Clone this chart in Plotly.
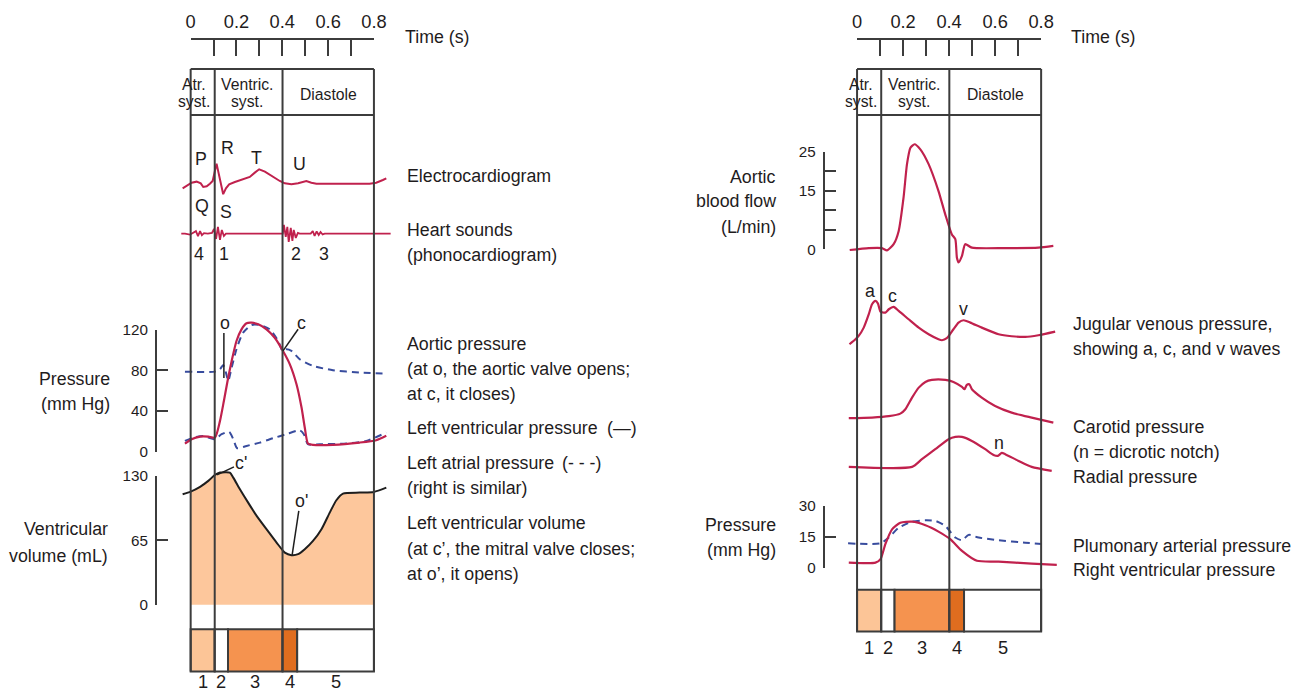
import plotly.graph_objects as go

# design grid (pixels) -> figure pixels: the figure is laid out on a grid that is
# offset by (GX0, GY0) and slightly reduced by (GSX, GSY)
GX0, GSX = 4.7, 0.988
GY0, GSY = 8.0, 0.976
FW, FH = 1306, 702
FS = 1.016  # font scale to go with the grid

RED = "#c0214d"
BLUE = "#384c9e"
INK = "#1f1c1d"
FRAME = "#3c3c3c"
FONT = "Liberation Sans, Arial, sans-serif"

# ---------------- left panel: ECG, heart sounds, left-heart pressures, volume ----------------
ECG_T = [-0.035, -0.017, 0.004, 0.026, 0.044, 0.055, 0.070, 0.084, 0.096, 0.113, 0.131, 0.142,
         0.154, 0.168, 0.193, 0.222, 0.258, 0.280, 0.299, 0.324, 0.353, 0.389, 0.411, 0.440,
         0.469, 0.505, 0.527, 0.549, 0.781, 0.810, 0.839, 0.854]
ECG_MV = [-0.28, -0.10, 0.06, 0.12, 0.02, -0.20, -0.16, 0.0, 0.16, 1.20, -0.04, -0.63,
          -0.28, -0.04, 0.10, 0.22, 0.40, 0.66, 0.86, 0.72, 0.46, 0.16, 0.02, -0.04,
          0.02, 0.16, 0.06, 0.0, 0.0, 0.06, 0.22, 0.32]

HS_T = [-0.041, -0.025, -0.003, 0.010, 0.023, 0.032, 0.041, 0.049, 0.058, 0.075, 0.093,
        0.102, 0.111, 0.119, 0.128, 0.136, 0.145, 0.154, 0.402, 0.407, 0.415, 0.422, 0.428,
        0.437, 0.444, 0.450, 0.459, 0.468, 0.476, 0.524, 0.533, 0.541, 0.550, 0.559, 0.567,
        0.576, 0.585, 0.873]
HS_AMP = [0, 0, -1, 1, 2.5, -2.5, 2.5, -1.5, 0.5, 0, 0.7,
          4.7, -5.3, 6.7, -6.3, 3.7, -2.3, 0, 0, 8.7, -3.3, 6.7, -8.3,
          5.7, -7.3, 3.7, -4.3, 0.7, 0, 0, 2.7, -2.3, 2.2, -1.3, 1.7,
          -0.8, 0, 0]

LVP_T = [-0.025, 0.004, 0.041, 0.077, 0.106, 0.128, 0.145, 0.161, 0.179, 0.200, 0.222, 0.244,
         0.266, 0.295, 0.331, 0.367, 0.403, 0.433, 0.462, 0.484, 0.498, 0.512, 0.534, 0.621,
         0.738, 0.810, 0.854]
LVP = [7.9, 12.2, 14.7, 14.7, 13.7, 30.2, 49.8, 69.4, 89.1, 108.7, 120.2, 126.1,
       126.7, 125.1, 120.2, 111.9, 98.9, 85.8, 66.2, 43.3, 23.7, 7.9, 6.6, 6.6,
       8.9, 11.2, 15.5]

AOP_T = [-0.025, 0.106, 0.128, 0.142, 0.154, 0.164, 0.179, 0.200, 0.229, 0.266, 0.302, 0.345,
         0.382, 0.401, 0.418, 0.440, 0.476, 0.534, 0.621, 0.738, 0.854]
AOP = [78.6, 78.6, 81.0, 85.2, 77.6, 69.5, 82.6, 100.6, 117.0, 124.5, 124.5, 120.3,
       108.8, 99.0, 100.6, 99.0, 90.8, 84.2, 80.0, 77.6, 76.7]

LAP_T = [-0.025, 0.011, 0.055, 0.106, 0.135, 0.168, 0.186, 0.203, 0.244, 0.302, 0.360, 0.418,
         0.476, 0.494, 0.512, 0.563, 0.680, 0.767, 0.854]
LAP = [10.5, 13.8, 15.4, 12.2, 17.1, 19.4, 12.2, 3.3, 5.6, 8.8, 13.2, 17.1,
       21.0, 17.1, 7.3, 7.3, 7.9, 10.5, 18.7]

VOL_T = [-0.035, 0.0, 0.041, 0.077, 0.106, 0.128, 0.171, 0.186, 0.215, 0.251, 0.288, 0.331,
         0.375, 0.411, 0.440, 0.469, 0.498, 0.534, 0.571, 0.607, 0.636, 0.665, 0.738, 0.800,
         0.854]
VOL = [111.6, 114.2, 119.0, 125.0, 131.0, 133.4, 133.4, 128.3, 116.6, 103.1, 89.7, 76.3,
       62.8, 52.7, 50.1, 51.1, 56.1, 64.5, 76.3, 93.0, 105.5, 112.2, 113.2, 113.9,
       118.2]

# ---------------- right panel: aortic flow, venous / arterial pulses, right-heart pressures ----------------
FLOW_T = [-0.032, 0.051, 0.108, 0.130, 0.159, 0.181, 0.202, 0.217, 0.232, 0.250, 0.275, 0.311,
          0.354, 0.383, 0.412, 0.427, 0.434, 0.441, 0.456, 0.470, 0.499, 0.644, 0.788, 0.853]
FLOW = [-0.2, 0.3, 0.3, -0.3, 1.3, 4.7, 13.2, 21.8, 26.0, 26.9, 25.6, 21.8,
        14.9, 9.0, 3.8, 2.6, -2.2, -3.4, -1.7, 1.3, 0.4, 0.3, 0.4, 0.85]

JVP_T = [-0.033, -0.007, 0.007, 0.029, 0.051, 0.065, 0.080, 0.091, 0.102, 0.123, 0.138, 0.159,
         0.181, 0.224, 0.268, 0.311, 0.354, 0.369, 0.390, 0.419, 0.441, 0.463, 0.492, 0.542,
         0.615, 0.672, 0.731, 0.788, 0.861]
JVP = [0.17, 0.67, 1.0, 1.83, 3.17, 4.17, 4.5, 4.23, 3.43, 3.33, 3.67, 3.9,
       3.5, 2.67, 1.83, 1.17, 0.67, 0.57, 0.77, 1.67, 2.33, 2.57, 2.33, 1.83,
       1.17, 0.97, 0.9, 1.07, 1.43]

CAR_T = [-0.036, 0.065, 0.138, 0.188, 0.210, 0.239, 0.268, 0.297, 0.325, 0.384, 0.419, 0.456,
         0.467, 0.477, 0.488, 0.499, 0.542, 0.600, 0.672, 0.759, 0.853]
CAR = [0.27, 0.33, 0.47, 0.73, 1.17, 2.33, 3.33, 3.9, 4.1, 4.1, 3.9, 3.4,
       3.17, 3.6, 3.67, 3.17, 2.33, 1.5, 0.83, 0.33, -0.17]

RAD_T = [-0.036, 0.239, 0.282, 0.340, 0.398, 0.427, 0.456, 0.499, 0.557, 0.593, 0.612, 0.629,
         0.644, 0.702, 0.759, 0.846]
RAD = [0.4, 0.4, 1.17, 2.17, 3.17, 3.4, 3.4, 3.0, 2.17, 1.6, 1.5, 1.8,
       1.67, 1.0, 0.4, 0.0]

RVP_T = [-0.036, 0.080, 0.102, 0.123, 0.152, 0.188, 0.239, 0.297, 0.354, 0.405, 0.456, 0.521,
         0.615, 0.759, 0.868]
RVP = [2.4, 2.4, 4.1, 11.4, 18.6, 21.8, 22.3, 20.6, 17.5, 13.8, 8.1, 3.3,
       2.9, 1.9, 1.3]

PAP_T = [-0.039, 0.102, 0.138, 0.181, 0.239, 0.297, 0.340, 0.384, 0.427, 0.456, 0.485, 0.528,
         0.615, 0.731, 0.817]
PAP = [11.8, 11.8, 14.6, 19.4, 22.3, 23.0, 22.7, 20.2, 14.6, 13.3, 15.9, 14.6,
       13.3, 12.1, 11.4]

# ---------------- cycle phases ----------------
PHASE_EDGES = [0.0, 0.105, 0.163, 0.401, 0.465, 0.8]
PHASE_FILL = ["#fcc597", "#ffffff", "#f5934f", "#df6d1f", "#ffffff"]
PHASE_LABELS = ["1", "2", "3", "4", "5"]
DIVIDERS = [0.0, 0.105, 0.401, 0.8]
HEADER = [("Atr.", "syst."), ("Ventric.", "syst."), ("Diastole",)]
HEADER_AT = [0.015, 0.248, 0.6]

TIME_TICKS = [0, 0.1, 0.2, 0.3, 0.4, 0.5, 0.6, 0.7, 0.8]
TIME_TEXT = ["0", "", "0.2", "", "0.4", "", "0.6", "", "0.8"]


# grid pixel -> paper fraction
def xpx(p):
    return (p - GX0) / GSX / FW


def ypx(p):
    return 1 - (p - GY0) / GSY / FH


def time_axis(t0_px, k, left_px, right_px):
    return dict(domain=[xpx(left_px), xpx(right_px)],
                range=[(left_px - t0_px) / k, (right_px - t0_px) / k],
                visible=False, showgrid=False, zeroline=False, fixedrange=True)


def value_axis(zero_px, k, top_px, bot_px):
    return dict(domain=[ypx(bot_px), ypx(top_px)],
                range=[(zero_px - bot_px) / k, (zero_px - top_px) / k],
                visible=False, showgrid=False, zeroline=False, fixedrange=True)


def ruler_y(zero_px, top_val, k, x_px, vals, text):
    return dict(domain=[ypx(zero_px), ypx(zero_px - top_val * k)], range=[0, top_val],
                anchor="free", position=xpx(x_px), side="left",
                showline=True, linecolor=FRAME, linewidth=2,
                ticks="inside", ticklen=11, tickwidth=2, tickcolor=FRAME,
                tickvals=vals, ticktext=text, ticklabelstandoff=4,
                tickfont=dict(family=FONT, size=15 * FS, color=INK),
                showgrid=False, zeroline=False, fixedrange=True)


def ruler_x(t0_px, k, y_px):
    return dict(domain=[xpx(t0_px), xpx(t0_px + 0.8 * k)], range=[0, 0.8],
                anchor="free", position=ypx(y_px), side="top",
                showline=True, linecolor=FRAME, linewidth=2,
                ticks="inside", ticklen=16.5, tickwidth=2, tickcolor=FRAME,
                tickvals=TIME_TICKS, ticktext=TIME_TEXT, ticklabelstandoff=3,
                tickfont=dict(family=FONT, size=18 * FS, color=INK),
                showgrid=False, zeroline=False, fixedrange=True)


# scale of each strip: (grid pixel of zero, grid pixels per unit)
L_T0, L_K = 190.7, 229.5
R_T0, R_K = 858.3, 230.5
LP_ZERO, LP_K = 450.7, 1.0175
LV_ZERO, LV_K = 604.0, 0.992
FL_ZERO, FL_K = 248.3, 3.904
RP_ZERO, RP_K = 566.7, 2.057

layout = dict(
    width=FW, height=FH, margin=dict(l=0, r=0, t=0, b=0), autosize=False,
    paper_bgcolor="white", plot_bgcolor="rgba(0,0,0,0)", showlegend=False,
    font=dict(family=FONT, color=INK),
    xaxis=ruler_x(L_T0, L_K, 38),
    xaxis2=time_axis(L_T0, L_K, 170, 395),
    xaxis3=ruler_x(R_T0, R_K, 38),
    xaxis4=time_axis(R_T0, R_K, 838, 1065),
    yaxis=ruler_y(LP_ZERO, 120, LP_K, 156, [0, 40, 80, 120], ["0", "40", "80", "120"]),
    yaxis2=ruler_y(LV_ZERO, 130, LV_K, 156, [0, 65, 130], ["0", "65", "130"]),
    yaxis3=value_axis(182.7, 16.7, 138, 216),
    yaxis4=value_axis(232.7, 1.0, 214, 252),
    yaxis5=value_axis(LP_ZERO, LP_K, 300, 462),
    yaxis6=value_axis(LV_ZERO, LV_K, 455, 612),
    yaxis7=ruler_y(FL_ZERO, 25, FL_K, 825, [0, 5, 10, 15, 20, 25], ["0", "", "", "15", "", "25"]),
    yaxis8=value_axis(FL_ZERO, FL_K, 130, 272),
    yaxis9=value_axis(345, 10, 280, 352),
    yaxis10=value_axis(420, 10, 368, 432),
    yaxis11=value_axis(470, 10, 425, 482),
    yaxis12=ruler_y(RP_ZERO, 30, RP_K, 825, [0, 15, 30], ["0", "15", "30"]),
    yaxis13=value_axis(RP_ZERO, RP_K, 498, 576),
)

fig = go.Figure()

# empty traces so the ruler axes get drawn
for xa, ya in [("x", "y"), ("x", "y2"), ("x3", "y7"), ("x3", "y12")]:
    fig.add_trace(go.Scatter(x=[None], y=[None], xaxis=xa, yaxis=ya, hoverinfo="skip"))


def curve(t, v, xa, ya, color=RED, dash=None, width=2.2, shape="spline"):
    fig.add_trace(go.Scatter(
        x=t, y=v, xaxis=xa, yaxis=ya, mode="lines", hoverinfo="skip",
        line=dict(color=color, width=width, dash=dash, shape=shape,
                  smoothing=0.6 if shape == "spline" else None)))


# ventricular volume: shaded area inside the cycle, outline across the strip
fill_pts = [(t, v) for t, v in zip(VOL_T, VOL) if 0.0 <= t <= 0.8]
fig.add_trace(go.Scatter(
    x=[p[0] for p in fill_pts], y=[p[1] for p in fill_pts], xaxis="x2", yaxis="y6",
    mode="lines", line=dict(width=0, shape="spline", smoothing=0.6), fill="tozeroy",
    fillcolor="#fdc79c", hoverinfo="skip"))
curve(VOL_T, VOL, "x2", "y6", color="#1e1e1e", width=2)

curve(ECG_T, ECG_MV, "x2", "y3", shape="linear", width=2)
curve(HS_T, HS_AMP, "x2", "y4", shape="linear", width=1.8)
curve(AOP_T, AOP, "x2", "y5", color=BLUE, dash="7px,5px", width=2)
curve(LAP_T, LAP, "x2", "y5", color=BLUE, dash="7px,5px", width=2)
curve(LVP_T, LVP, "x2", "y5")

curve(FLOW_T, FLOW, "x4", "y8")
curve(JVP_T, JVP, "x4", "y9")
curve(CAR_T, CAR, "x4", "y10")
curve(RAD_T, RAD, "x4", "y11")
curve(PAP_T, PAP, "x4", "y13", color=BLUE, dash="7px,5px", width=2)
curve(RVP_T, RVP, "x4", "y13")

shapes = []
annotations = []


def line_shape(xref, yref, x0, y0, x1, y1, width=2, color=FRAME):
    shapes.append(dict(type="line", xref=xref, yref=yref, x0=x0, y0=y0, x1=x1, y1=y1,
                       line=dict(color=color, width=width)))


def note(text, x, y, xref="paper", yref="paper", xanchor="left", size=17.5):
    annotations.append(dict(text=text, x=x, y=y, xref=xref, yref=yref, xanchor=xanchor,
                            yanchor="middle", showarrow=False,
                            font=dict(family=FONT, size=size * FS, color=INK)))


# frames, phase headers and phase bars for both panels
# (xref, bar top, bar bottom, centre of the phase numbers)
for xref, bar_top, bar_bot, num_y in [("x2", 628.3, 670.7, 681.0), ("x4", 589.0, 630.7, 646.5)]:
    for i in range(5):
        shapes.append(dict(type="rect", xref=xref, yref="paper",
                           x0=PHASE_EDGES[i], x1=PHASE_EDGES[i + 1],
                           y0=ypx(bar_bot), y1=ypx(bar_top),
                           fillcolor=PHASE_FILL[i], line=dict(color=FRAME, width=2)))
        note(PHASE_LABELS[i], (PHASE_EDGES[i] + PHASE_EDGES[i + 1]) / 2,
             ypx(num_y), xref=xref, xanchor="center", size=18)
    for t in DIVIDERS:
        line_shape(xref, "paper", t, ypx(68), t, ypx(bar_bot))
    for yy in (68, 114):
        line_shape(xref, "paper", 0.0, ypx(yy), 0.8, ypx(yy))
    for words, mid in zip(HEADER, HEADER_AT):
        if len(words) == 2:
            note(words[0], mid, ypx(84), xref=xref, xanchor="center", size=15.5)
            note(words[1], mid, ypx(101), xref=xref, xanchor="center", size=15.5)
        else:
            note(words[0], mid, ypx(94), xref=xref, xanchor="center", size=15.5)

note("Time (s)", xpx(403), ypx(36))
note("Time (s)", xpx(1071), ypx(36))

# ECG wave names and heart-sound numbers
for txt, x, y in [("P", 200.7, 158), ("R", 227.3, 146.7), ("T", 256.7, 156.7), ("U", 300, 163.3),
                  ("Q", 201.7, 205), ("S", 226, 210.7),
                  ("4", 199.3, 253), ("1", 224.3, 253), ("2", 296.7, 253), ("3", 324.3, 253)]:
    note(txt, xpx(x), ypx(y), xanchor="center")

# valve events
line_shape("x2", "y5", 0.145, 116.7, 0.145, 72.4, width=1.5, color="#1e1e1e")
line_shape("x2", "y5", 0.469, 120.3, 0.403, 99.0, width=1.5, color="#1e1e1e")
line_shape("x2", "y6", 0.115, 131.0, 0.189, 139.1, width=1.5, color="#1e1e1e")
line_shape("x2", "y6", 0.472, 94.8, 0.443, 50.4, width=1.5, color="#1e1e1e")
for txt, x, y in [("o", 225, 322), ("c", 301.7, 322), ("c'", 241, 462), ("o'", 302, 500),
                  ("a", 871.7, 290), ("c", 894, 295), ("v", 965, 308), ("n", 1000, 442)]:
    note(txt, xpx(x), ypx(y), xanchor="center")

# axis titles
for txt, x, y in [("Pressure", 111.7, 378), ("(mm Hg)", 111.7, 403),
                  ("Ventricular", 110, 528), ("volume (mL)", 110, 555),
                  ("Aortic", 779, 176.5), ("blood flow", 779, 200.5), ("(L/min)", 779, 226),
                  ("Pressure", 779, 524), ("(mm Hg)", 779, 549)]:
    note(txt, xpx(x), ypx(y), xanchor="right")

# trace descriptions
LEFT_NOTES = [("Electrocardiogram", 175), ("Heart sounds", 229), ("(phonocardiogram)", 254),
              ("Aortic pressure", 343), ("(at o, the aortic valve opens;", 368),
              ("at c, it closes)", 393), ("Left ventricular pressure", 427),
              ("Left atrial pressure", 462), ("(right is similar)", 487),
              ("Left ventricular volume", 522), ("(at c’, the mitral valve closes;", 548),
              ("at o’, it opens)", 573)]
for txt, y in LEFT_NOTES:
    note(txt, xpx(405), ypx(y))
note("(—)", xpx(606), ypx(427))
note("(- - -)", xpx(561), ypx(462))

RIGHT_NOTES = [("Jugular venous pressure,", 322.7), ("showing a, c, and v waves", 348.3),
               ("Carotid pressure", 426), ("(n = dicrotic notch)", 451), ("Radial pressure", 476),
               ("Plumonary arterial pressure", 545), ("Right ventricular pressure", 569)]
for txt, y in RIGHT_NOTES:
    note(txt, xpx(1073), ypx(y))

layout["shapes"] = shapes
layout["annotations"] = annotations
fig.update_layout(**layout)
fig.write_html("out.html")
